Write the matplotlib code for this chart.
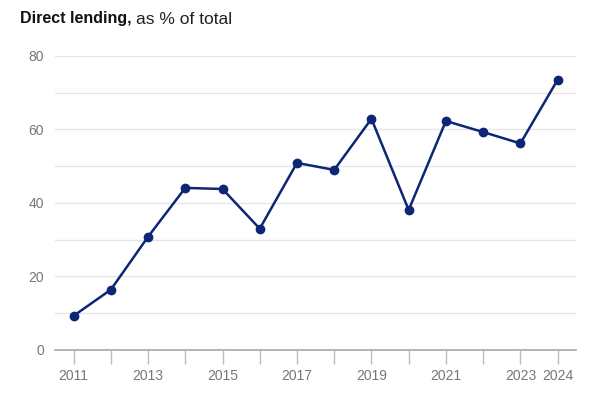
import matplotlib.pyplot as plt
import numpy as np

years = [2011, 2012, 2013, 2014, 2015, 2016, 2017, 2018, 2019, 2020, 2021, 2022, 2023, 2024]
direct_lending = [9.3, 16.4, 30.8, 44.1, 43.8, 33.0, 50.9, 49.0, 62.9, 38.1, 62.3, 59.3, 56.2, 73.5]
labelled_years = [2011, 2013, 2015, 2017, 2019, 2021, 2023, 2024]
y_ticks = [0, 20, 40, 60, 80]

plt.rcParams['font.family'] = ['Liberation Sans', 'DejaVu Sans']

fig = plt.figure(figsize=(5.91, 3.94), dpi=100)
ax = fig.add_axes([0.093, 0.1117, 0.882, 0.7463])

line_color = '#0d2675'
ax.plot(years, direct_lending, '-o', color=line_color, lw=1.8, markersize=6, clip_on=False, zorder=3)

ax.set_xlim(2010.5, 2024.5)
ax.set_ylim(0, 80)

# gridlines every 10, labels every 20
ax.set_yticks(np.arange(0, 81, 10), minor=True)
ax.set_yticks(y_ticks)
ax.yaxis.grid(True, which='both', color='#e6e6e6', lw=1)
ax.tick_params(axis='y', which='both', length=0, pad=8, labelsize=10, labelcolor='#777777')

ax.set_xticks(years)
ax.set_xticklabels([str(y) if y in labelled_years else '' for y in years])
ax.tick_params(axis='x', length=10, width=1, color='#bdbdbd', pad=4, labelsize=10, labelcolor='#777777')

for side in ['top', 'right', 'left']:
    ax.spines[side].set_visible(False)
ax.spines['bottom'].set_color('#a8a8a8')
ax.spines['bottom'].set_linewidth(1.2)
ax.set_axisbelow(True)

fig.text(20 / 591, 1 - 19 / 394, 'Direct lending,', fontsize=11.5, fontweight='bold', color='#111111', va='center', ha='left')
fig.text(136 / 591, 1 - 19 / 394, 'as % of total', fontsize=12.5, color='#222222', va='center', ha='left')

fig.savefig('out.png', dpi=100)
